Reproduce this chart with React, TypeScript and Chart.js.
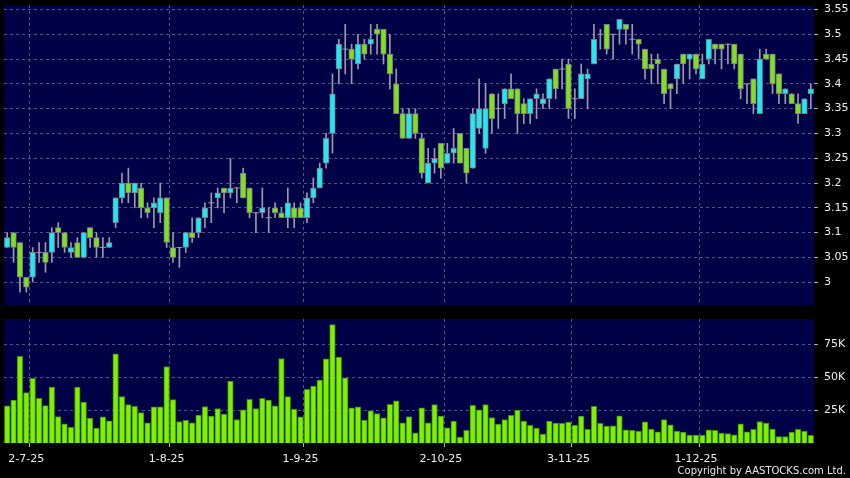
import { useEffect, useRef } from 'react';
import { Chart, registerables } from 'chart.js';

Chart.register(...registerables);

// ---------------- data ----------------
const dates = [
  '26-6-25', '27-6-25', '30-6-25',
  '2-7-25', '3-7-25', '4-7-25', '7-7-25', '8-7-25', '9-7-25', '10-7-25', '11-7-25', '14-7-25', '15-7-25', '16-7-25', '17-7-25', '18-7-25', '21-7-25', '22-7-25', '23-7-25', '24-7-25', '25-7-25', '28-7-25', '29-7-25', '30-7-25', '31-7-25',
  '1-8-25', '4-8-25', '5-8-25', '6-8-25', '7-8-25', '8-8-25', '11-8-25', '12-8-25', '13-8-25', '14-8-25', '15-8-25', '18-8-25', '19-8-25', '20-8-25', '21-8-25', '22-8-25', '25-8-25', '26-8-25', '27-8-25', '28-8-25', '29-8-25',
  '1-9-25', '2-9-25', '3-9-25', '4-9-25', '5-9-25', '8-9-25', '9-9-25', '10-9-25', '11-9-25', '12-9-25', '15-9-25', '16-9-25', '17-9-25', '18-9-25', '19-9-25', '22-9-25', '23-9-25', '24-9-25', '25-9-25', '26-9-25', '29-9-25', '30-9-25',
  '2-10-25', '3-10-25', '6-10-25', '8-10-25', '9-10-25', '10-10-25', '13-10-25', '14-10-25', '15-10-25', '16-10-25', '17-10-25', '20-10-25', '21-10-25', '22-10-25', '23-10-25', '24-10-25', '27-10-25', '28-10-25', '30-10-25', '31-10-25',
  '3-11-25', '4-11-25', '5-11-25', '6-11-25', '7-11-25', '10-11-25', '11-11-25', '12-11-25', '13-11-25', '14-11-25', '17-11-25', '18-11-25', '19-11-25', '20-11-25', '21-11-25', '24-11-25', '25-11-25', '26-11-25', '27-11-25', '28-11-25',
  '1-12-25', '2-12-25', '3-12-25', '4-12-25', '5-12-25', '8-12-25', '9-12-25', '10-12-25', '11-12-25', '12-12-25', '15-12-25', '16-12-25', '17-12-25', '18-12-25', '19-12-25', '22-12-25', '23-12-25', '24-12-25', '29-12-25',
];

const opens = [
  3.07, 3.10, 3.08, 3.01, 3.01, 3.06, 3.06, 3.06, 3.11, 3.10,
  3.06, 3.08, 3.05, 3.11, 3.09, 3.07, 3.07, 3.12, 3.17, 3.20,
  3.18, 3.19, 3.15, 3.15, 3.14, 3.17, 3.07, 3.07, 3.07, 3.10,
  3.10, 3.13, 3.16, 3.17, 3.19, 3.18, 3.19, 3.22, 3.19, 3.14,
  3.14, 3.13, 3.15, 3.14, 3.13, 3.15, 3.15, 3.13, 3.17, 3.19,
  3.24, 3.30, 3.43, 3.47, 3.47, 3.44, 3.48, 3.48, 3.51, 3.51,
  3.46, 3.40, 3.34, 3.29, 3.34, 3.29, 3.20, 3.24, 3.28, 3.24,
  3.26, 3.30, 3.27, 3.23, 3.31, 3.27, 3.38, 3.35, 3.36, 3.39,
  3.39, 3.36, 3.34, 3.37, 3.36, 3.37, 3.43, 3.43, 3.44, 3.37,
  3.37, 3.41, 3.44, 3.50, 3.52, 3.50, 3.51, 3.52, 3.49, 3.49,
  3.47, 3.44, 3.45, 3.43, 3.40, 3.41, 3.46, 3.45, 3.46, 3.41,
  3.45, 3.48, 3.48, 3.48, 3.48, 3.46, 3.40, 3.41, 3.34, 3.46,
  3.46, 3.42, 3.38, 3.38, 3.36, 3.34, 3.38,
];

const highs = [
  3.10, 3.10, 3.08, 3.01, 3.07, 3.08, 3.08, 3.11, 3.12, 3.10,
  3.08, 3.09, 3.10, 3.11, 3.10, 3.09, 3.09, 3.17, 3.22, 3.23,
  3.20, 3.20, 3.16, 3.17, 3.20, 3.17, 3.10, 3.07, 3.10, 3.13,
  3.13, 3.16, 3.18, 3.19, 3.19, 3.25, 3.19, 3.23, 3.19, 3.14,
  3.19, 3.15, 3.16, 3.15, 3.19, 3.16, 3.16, 3.18, 3.21, 3.24,
  3.30, 3.42, 3.49, 3.52, 3.48, 3.50, 3.49, 3.52, 3.52, 3.51,
  3.50, 3.43, 3.35, 3.35, 3.35, 3.30, 3.27, 3.27, 3.28, 3.28,
  3.31, 3.30, 3.27, 3.35, 3.41, 3.40, 3.38, 3.38, 3.39, 3.42,
  3.39, 3.37, 3.37, 3.39, 3.38, 3.41, 3.43, 3.45, 3.45, 3.39,
  3.44, 3.43, 3.52, 3.51, 3.52, 3.50, 3.53, 3.52, 3.52, 3.49,
  3.47, 3.46, 3.46, 3.43, 3.40, 3.44, 3.46, 3.46, 3.46, 3.46,
  3.49, 3.48, 3.48, 3.48, 3.48, 3.46, 3.40, 3.41, 3.47, 3.47,
  3.46, 3.42, 3.39, 3.38, 3.38, 3.37, 3.40,
];

const lows = [
  3.07, 3.04, 2.98, 2.98, 3.00, 3.04, 3.02, 3.04, 3.07, 3.06,
  3.05, 3.05, 3.05, 3.07, 3.05, 3.05, 3.07, 3.11, 3.16, 3.16,
  3.15, 3.13, 3.13, 3.11, 3.12, 3.07, 3.04, 3.03, 3.06, 3.08,
  3.09, 3.11, 3.12, 3.15, 3.14, 3.17, 3.16, 3.17, 3.13, 3.10,
  3.13, 3.10, 3.13, 3.13, 3.11, 3.11, 3.13, 3.12, 3.16, 3.19,
  3.23, 3.26, 3.40, 3.42, 3.40, 3.43, 3.45, 3.46, 3.46, 3.44,
  3.39, 3.34, 3.29, 3.29, 3.29, 3.21, 3.20, 3.22, 3.21, 3.24,
  3.24, 3.24, 3.20, 3.23, 3.30, 3.26, 3.30, 3.31, 3.33, 3.37,
  3.30, 3.32, 3.32, 3.33, 3.35, 3.35, 3.37, 3.39, 3.33, 3.33,
  3.37, 3.35, 3.44, 3.47, 3.46, 3.45, 3.48, 3.48, 3.46, 3.45,
  3.41, 3.40, 3.40, 3.36, 3.35, 3.38, 3.40, 3.41, 3.42, 3.41,
  3.44, 3.44, 3.43, 3.44, 3.43, 3.37, 3.36, 3.34, 3.34, 3.45,
  3.38, 3.36, 3.36, 3.36, 3.32, 3.34, 3.35,
];

const closes = [
  3.09, 3.07, 3.01, 2.99, 3.06, 3.06, 3.04, 3.10, 3.10, 3.07,
  3.07, 3.05, 3.10, 3.09, 3.07, 3.07, 3.08, 3.17, 3.20, 3.18,
  3.20, 3.15, 3.14, 3.16, 3.17, 3.08, 3.05, 3.07, 3.10, 3.09,
  3.13, 3.15, 3.16, 3.18, 3.18, 3.19, 3.19, 3.17, 3.14, 3.14,
  3.15, 3.13, 3.14, 3.13, 3.16, 3.13, 3.13, 3.17, 3.19, 3.23,
  3.29, 3.38, 3.48, 3.47, 3.45, 3.48, 3.46, 3.49, 3.50, 3.46,
  3.42, 3.34, 3.29, 3.34, 3.30, 3.22, 3.24, 3.25, 3.23, 3.26,
  3.27, 3.24, 3.22, 3.34, 3.35, 3.35, 3.33, 3.35, 3.39, 3.37,
  3.34, 3.34, 3.37, 3.38, 3.37, 3.41, 3.39, 3.43, 3.35, 3.37,
  3.42, 3.42, 3.49, 3.50, 3.47, 3.50, 3.53, 3.51, 3.49, 3.48,
  3.43, 3.43, 3.44, 3.38, 3.39, 3.44, 3.44, 3.46, 3.43, 3.44,
  3.49, 3.47, 3.47, 3.48, 3.44, 3.39, 3.40, 3.36, 3.45, 3.45,
  3.40, 3.38, 3.39, 3.36, 3.34, 3.37, 3.39,
];

const volumes = [
  28300, 32800, 66100, 38400, 49200, 34100, 28500, 42700, 20200, 14600,
  11900, 42700, 31100, 18900, 11400, 19900, 16900, 67900, 35400, 29300,
  28000, 23200, 15400, 27500, 27500, 58300, 33100, 16400, 17200, 15400,
  21200, 27800, 20500, 26300, 22000, 47200, 17900, 25300, 33300, 26300,
  34100, 32800, 28300, 64400, 35400, 25800, 19900, 40900, 43400, 48000,
  64200, 90200, 65400, 49700, 26800, 27500, 17400, 24500, 22500, 19200,
  29500, 32100, 15400, 20200, 7800, 26800, 15400, 29300, 20500, 11600,
  16700, 4500, 9600, 28800, 25300, 29300, 19400, 14400, 17900, 21000,
  25000, 16700, 13400, 11400, 6800, 16700, 15200, 14900, 15900, 13600,
  20500, 10400, 28000, 14900, 12900, 13100, 20700, 10100, 9600, 9100,
  16200, 10600, 8600, 17900, 13900, 9100, 8300, 6100, 6100, 6100,
  10100, 9600, 7600, 7100, 6300, 14600, 8600, 10400, 16400, 15200,
  10600, 4800, 4800, 8300, 10400, 9100, 5800,
];

const priceTicks = [3, 3.05, 3.1, 3.15, 3.2, 3.25, 3.3, 3.35, 3.4, 3.45, 3.5, 3.55];
const volumeTicks = [25000, 50000, 75000];
const priceMin = 2.954;
const priceMax = 3.559;
const volumeMax = 94500;

// ---------------- styles ----------------
const NAVY = '#000046';
const GRID = '#54548a';
const TICK = '#b0b0b0';
const LABEL = '#eeeeee';
const UP = '#22e8f2';
const DOWN = '#7fe020';
const CANDLE_BORDER = '#7c7c84';
const WICK = '#9a9aaa';
const VOL_FILL = '#80f000';
const VOL_BORDER = '#3c8a00';
const FONT = { family: '"DejaVu Sans", sans-serif', size: 11 };

const monthOf = (d: string) => d.split('-')[1];
const isMonthStart = (i: number) => i > 0 && i < dates.length && monthOf(dates[i]) !== monthOf(dates[i - 1]);
// grid line index i (offset grid) sits at left edge of category i -> between month start and next day
const isGridLine = (i: number) => isMonthStart(i - 1);

const areaBg = {
  id: 'areaBg',
  beforeDraw(chart: any) {
    const { ctx, chartArea: a } = chart;
    ctx.save();
    ctx.fillStyle = NAVY;
    ctx.fillRect(a.left, a.top, a.width, a.height);
    ctx.restore();
  },
};

const fmtPrice = (v: number) => String(parseFloat(Number(v).toFixed(2)));

export default function App() {
  const priceRef = useRef<HTMLCanvasElement>(null);
  const volRef = useRef<HTMLCanvasElement>(null);

  useEffect(() => {
    const bodyColors = opens.map((o, i) => (closes[i] > o ? UP : DOWN));

    const price = new Chart(priceRef.current as HTMLCanvasElement, {
      type: 'bar',
      data: {
        labels: dates,
        datasets: [
          {
            type: 'bar',
            label: 'wick',
            data: lows.map((l, i) => [l, highs[i]]),
            backgroundColor: WICK,
            borderWidth: 0,
            barThickness: 1,
            grouped: false,
            order: 3,
          } as any,
          {
            type: 'bar',
            label: 'body',
            data: opens.map((o, i) => [o, closes[i]]),
            backgroundColor: bodyColors,
            borderColor: CANDLE_BORDER,
            borderWidth: 1,
            borderSkipped: false,
            barThickness: 5.6,
            grouped: false,
            order: 2,
          } as any,
          {
            type: 'line',
            label: 'doji',
            data: closes.map((c, i) => (c === opens[i] ? c : null)),
            showLine: false,
            pointStyle: 'line',
            pointRadius: 3,
            pointBorderColor: WICK,
            pointBorderWidth: 1,
            borderColor: WICK,
            order: 1,
          } as any,
        ],
      },
      options: {
        animation: false,
        responsive: false,
        events: [],
        layout: { padding: { left: 4, right: 0, top: 5, bottom: 5 }, autoPadding: false },
        plugins: { legend: { display: false }, tooltip: { enabled: false } },
        scales: {
          x: {
            type: 'category',
            offset: true,
            grid: {
              offset: true,
              drawTicks: false,
              color: (ctx: any) => (isGridLine(ctx.index) ? GRID : 'transparent'),
            },
            border: { display: false, dash: [3, 3] },
            ticks: { display: false, autoSkip: false },
            afterFit: (s: any) => {
              s.height = 0;
              s.paddingLeft = 0;
              s.paddingRight = 0;
            },
          } as any,
          y: {
            type: 'linear',
            position: 'right',
            min: priceMin,
            max: priceMax,
            grid: { color: GRID, tickColor: TICK, tickLength: 4, tickBorderDash: [] },
            border: { display: false, dash: [3, 3] },
            ticks: {
              color: LABEL,
              font: FONT,
              padding: 6,
              callback: (v: any) => fmtPrice(v),
            },
            afterBuildTicks: (s: any) => {
              s.ticks = priceTicks.map((v) => ({ value: v }));
            },
            afterFit: (s: any) => {
              s.width = 36;
              s.paddingTop = 0;
              s.paddingBottom = 0;
            },
          } as any,
        },
      },
      plugins: [areaBg],
    });

    const vol = new Chart(volRef.current as HTMLCanvasElement, {
      type: 'bar',
      data: {
        labels: dates,
        datasets: [
          {
            label: 'volume',
            data: volumes,
            backgroundColor: VOL_FILL,
            borderColor: VOL_BORDER,
            borderWidth: 1,
            barThickness: 5.6,
          } as any,
        ],
      },
      options: {
        animation: false,
        responsive: false,
        events: [],
        layout: { padding: { left: 4, right: 0, top: 9, bottom: 15 }, autoPadding: false },
        plugins: { legend: { display: false }, tooltip: { enabled: false } },
        scales: {
          x: {
            type: 'category',
            offset: true,
            grid: {
              offset: true,
              color: (ctx: any) => (isGridLine(ctx.index) ? GRID : 'transparent'),
              tickColor: (ctx: any) => (isGridLine(ctx.index) ? TICK : 'transparent'),
              tickLength: 4,
              tickBorderDash: [],
            },
            border: { display: false, dash: [3, 3] },
            ticks: {
              autoSkip: false,
              maxRotation: 0,
              minRotation: 0,
              color: LABEL,
              font: FONT,
              padding: 6,
              callback: (_v: any, i: number) => (isMonthStart(i) ? dates[i] : ''),
            },
            afterFit: (s: any) => {
              s.height = 20;
              s.paddingLeft = 0;
              s.paddingRight = 0;
            },
          } as any,
          y: {
            type: 'linear',
            position: 'right',
            min: 0,
            max: volumeMax,
            grid: { color: GRID, tickColor: TICK, tickLength: 4, tickBorderDash: [] },
            border: { display: false, dash: [3, 3] },
            ticks: {
              color: LABEL,
              font: FONT,
              padding: 6,
              callback: (v: any) => `${Math.round(Number(v) / 1000)}K`,
            },
            afterBuildTicks: (s: any) => {
              s.ticks = volumeTicks.map((v) => ({ value: v }));
            },
            afterFit: (s: any) => {
              s.width = 36;
              s.paddingTop = 0;
              s.paddingBottom = 0;
            },
          } as any,
        },
      },
      plugins: [areaBg],
    });

    return () => {
      price.destroy();
      vol.destroy();
    };
  }, []);

  return (
    <div
      style={{
        position: 'fixed',
        left: 0,
        top: 0,
        width: 850,
        height: 478,
        background: '#000',
        overflow: 'hidden',
      }}
    >
      <canvas
        ref={priceRef}
        width={850}
        height={310}
        style={{ position: 'absolute', left: 0, top: 0, width: 850, height: 310, display: 'block' }}
      />
      <canvas
        ref={volRef}
        width={850}
        height={168}
        style={{ position: 'absolute', left: 0, top: 310, width: 850, height: 168, display: 'block' }}
      />
      <div
        style={{
          position: 'absolute',
          right: 4,
          top: 465,
          color: '#e6e6e6',
          font: '10px "DejaVu Sans", sans-serif',
          whiteSpace: 'nowrap',
        }}
      >
        Copyright by AASTOCKS.com Ltd.
      </div>
    </div>
  );
}
